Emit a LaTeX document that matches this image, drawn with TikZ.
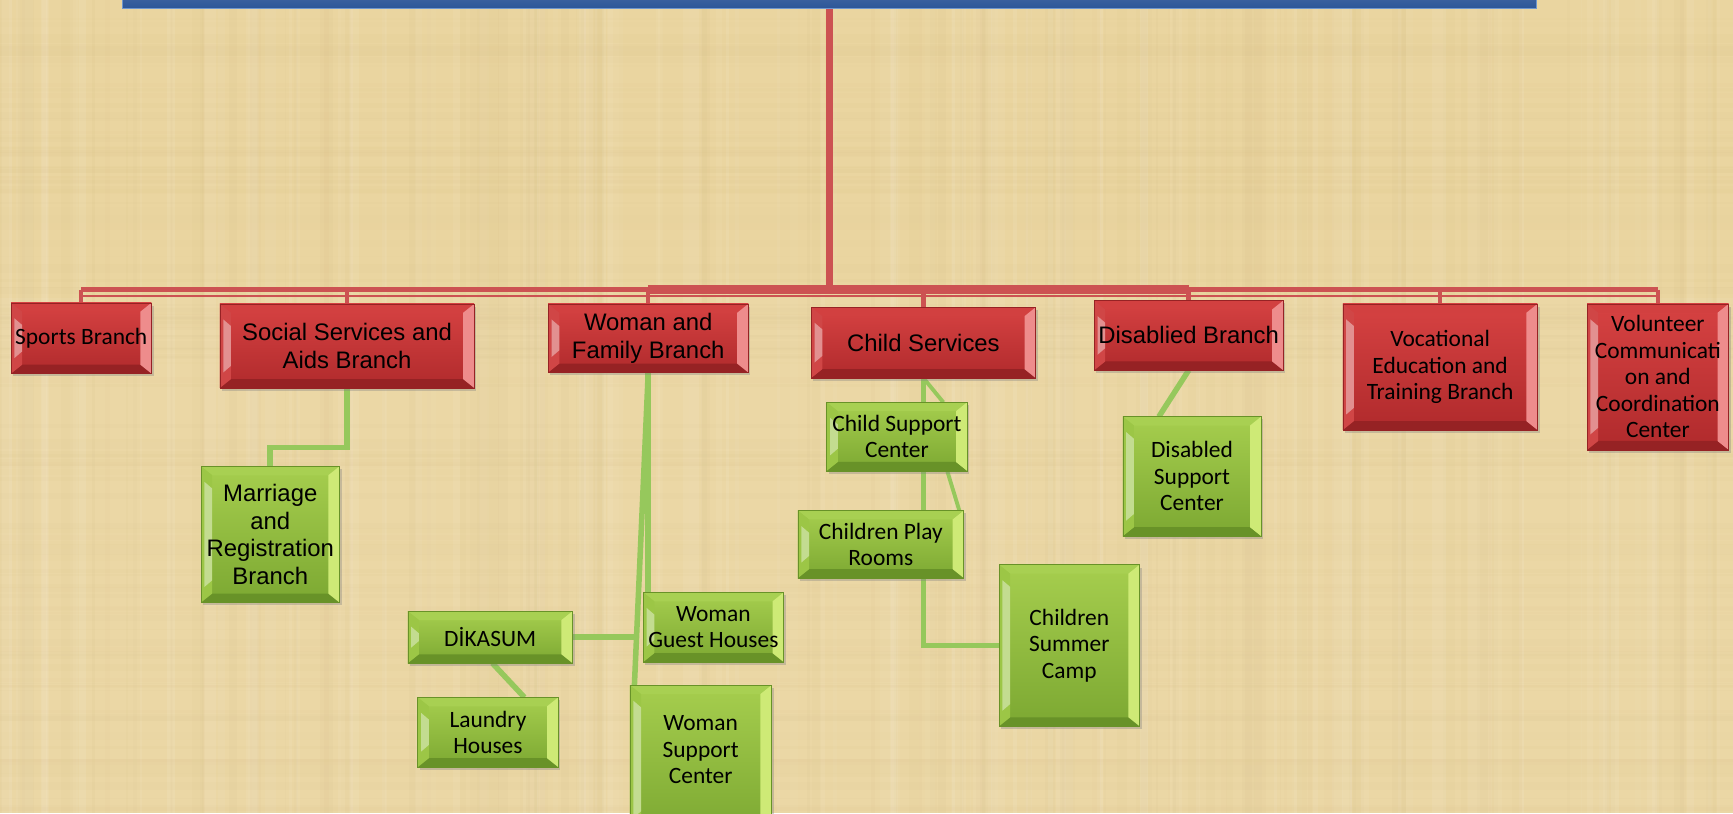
\documentclass[tikz,border=0pt]{standalone}
\usepackage{fontspec}
\setmainfont{Liberation Sans}
\newfontfamily\calibrif{Carlito}
\usetikzlibrary{calc,shadows}
\pgfdeclarelayer{back}
\pgfsetlayers{back,main}
\definecolor{bg}{RGB}{234,213,160}
\definecolor{bgdark}{RGB}{205,180,120}
\definecolor{rtop}{RGB}{214,66,66}
\definecolor{rbot}{RGB}{176,42,44}
\definecolor{rleft}{RGB}{208,70,70}
\definecolor{rright}{RGB}{238,140,140}
\definecolor{rtopb}{RGB}{210,64,64}
\definecolor{rbotb}{RGB}{150,34,36}
\definecolor{redline}{RGB}{204,82,82}
\definecolor{gtop}{RGB}{166,206,78}
\definecolor{gbot}{RGB}{124,168,50}
\definecolor{gleft}{RGB}{156,198,70}
\definecolor{gright}{RGB}{206,234,118}
\definecolor{gtopb}{RGB}{168,208,82}
\definecolor{gbotb}{RGB}{104,146,40}
\definecolor{greenline}{RGB}{150,200,92}
\definecolor{bluebar}{RGB}{44,86,152}
\definecolor{blueedge}{RGB}{110,150,205}
\newcommand\bevelpic[4]{%
  \coordinate (bsw) at (path picture bounding box.south west);
  \coordinate (bne) at (path picture bounding box.north east);
  \coordinate (bse) at (path picture bounding box.south east);
  \coordinate (bnw) at (path picture bounding box.north west);
  \fill[#3] (bnw) -- (bne) -- ([shift={(-10pt,-8pt)}]bne) -- ([shift={(10pt,-8pt)}]bnw) -- cycle;
  \fill[#4] (bsw) -- (bse) -- ([shift={(-10pt,8pt)}]bse) -- ([shift={(10pt,8pt)}]bsw) -- cycle;
  \fill[#1] (bnw) -- ([shift={(10pt,-8pt)}]bnw) -- ([shift={(10pt,8pt)}]bsw) -- (bsw) -- cycle;
  \fill[#2] (bne) -- ([shift={(-10pt,-8pt)}]bne) -- ([shift={(-10pt,8pt)}]bse) -- (bse) -- cycle;
  \fill[white,opacity=0.4] ([shift={(3pt,-14pt)}]bnw) -- ([shift={(10pt,-20pt)}]bnw) -- ([shift={(10pt,20pt)}]bsw) -- ([shift={(3pt,14pt)}]bsw) -- cycle;
}
\tikzset{
  box/.style={anchor=north west, inner sep=0pt, outer sep=0pt, align=center, rectangle,
    drop shadow={opacity=0.35, shadow xshift=2pt, shadow yshift=-2.5pt}},
  redbox/.style={box, top color=rtop, bottom color=rbot, draw=rbotb, line width=0.6pt,
    path picture={\bevelpic{rleft}{rright}{rtopb}{rbotb}}},
  greenbox/.style={box, top color=gtop, bottom color=gbot, draw=gbotb, line width=0.6pt,
    path picture={\bevelpic{gleft}{gright}{gtopb}{gbotb}}},
  arialtext/.style={font=\fontsize{21.6}{25}\selectfont},
  calitext/.style={font=\calibrif\fontsize{21.2}{24}\selectfont},
  redlink/.style={draw=redline, line width=4pt},
  greenlink/.style={draw=greenline, line width=5pt},
}
\begin{document}
\begin{tikzpicture}[x=1pt,y=-1pt]
\useasboundingbox (0,0) rectangle (1568,736);

% top bar
\node[anchor=north west, inner sep=0pt, minimum width=1280pt, minimum height=27pt,
  top color=bluebar!80!white, bottom color=bluebar, draw=blueedge, line width=1pt] (top) at (110,-20) {};

% red branch boxes
\node[redbox, calitext, minimum width=127pt, minimum height=64pt] (sp) at (10,274) {Sports Branch};
\node[redbox, arialtext, minimum width=230pt, minimum height=76pt] (ss) at (199,275) {Social Services and\\Aids Branch};
\node[redbox, arialtext, minimum width=181pt, minimum height=62pt] (wf) at (496,275) {Woman and\\Family Branch};
\node[redbox, arialtext, minimum width=203pt, minimum height=64pt] (cs) at (734,278) {Child Services};
\node[redbox, arialtext, minimum width=171pt, minimum height=63pt] (db) at (990,272) {Disablied Branch};
\node[redbox, calitext, minimum width=176pt, minimum height=114pt] (ve) at (1215,275) {Vocational\\Education and\\Training Branch};
\node[redbox, calitext, minimum width=128pt, minimum height=132pt] (vc) at (1436,275) {Volunteer\\Communicati\\on and\\Coordination\\Center};

% green boxes
\node[greenbox, arialtext, minimum width=125pt, minimum height=123pt] (mr) at (182,422) {Marriage\\and\\Registration\\Branch};
\node[greenbox, calitext, minimum width=127pt, minimum height=62pt] (csc) at (748,364) {Child Support\\Center};
\node[greenbox, calitext, minimum width=150pt, minimum height=61pt] (cpr) at (722,462) {Children Play\\Rooms};
\node[greenbox, calitext, minimum width=127pt, minimum height=146pt] (scp) at (904,511) {Children\\Summer\\Camp};
\node[greenbox, calitext, minimum width=125pt, minimum height=108pt] (dsc) at (1016,377) {Disabled\\Support\\Center};
\node[greenbox, calitext, minimum width=127pt, minimum height=63pt] (wg) at (582,536) {Woman\\Guest Houses};
\node[greenbox, calitext, minimum width=149pt, minimum height=47pt] (dk) at (369,553) {DİKASUM};
\node[greenbox, calitext, minimum width=127pt, minimum height=63pt] (ld) at (378,631) {Laundry\\Houses};
\node[greenbox, calitext, minimum width=128pt, minimum height=134pt] (ws) at (570,620) {Woman\\Support\\Center\rule[-17pt]{0pt}{17pt}};

\begin{pgfonlayer}{back}
\fill[bg] (0,0) rectangle (1568,736);
\pgfmathsetseed{11}
\foreach \i in {1,...,220}{
  \pgfmathsetmacro\xx{rnd*1568}
  \pgfmathsetmacro\ww{1+rnd*10}
  \pgfmathsetmacro\oo{0.03+rnd*0.05}
  \pgfmathsetmacro\cc{rnd}
  \ifdim\cc pt<0.5pt
    \fill[white,opacity=\oo] (\xx,0) rectangle ++(\ww,736);
  \else
    \fill[bgdark,opacity=\oo] (\xx,0) rectangle ++(\ww,736);
  \fi
}
\foreach \i in {1,...,120}{
  \pgfmathsetmacro\yy{rnd*736}
  \pgfmathsetmacro\hh{1+rnd*6}
  \pgfmathsetmacro\oo{0.02+rnd*0.04}
  \fill[bgdark,opacity=\oo] (0,\yy) rectangle ++(1568,\hh);
}
\fill[white,opacity=0.06] (0,270) rectangle (1568,736);

% red connectors
\coordinate (bus) at (0,262);
\coordinate (busb) at (0,268);
\draw[redline, line width=6pt] (top.south) -- (top.south |- bus);
\draw[redline, line width=4.5pt] (sp.north |- bus) -- (vc.north |- bus);
\draw[redline, line width=1.5pt] (sp.north |- busb) -- (vc.north |- busb);
\draw[redline, line width=8pt] (wf.north |- bus) -- (db.north |- bus);
\foreach \n in {sp,ss,wf,cs,db,ve,vc}{
  \draw[redlink] (\n.north |- bus) -- (\n.north);
}

% green connectors
\draw[greenlink] (ss.south) -- ++(0,54) -| (mr.north);
\draw[greenlink] (wf.south) -- (wf.south |- wg.north);
\draw[greenlink] (wf.south) -- ([xshift=4pt]ws.north west);
\coordinate (dkj) at ($(wf.south)!0.843!([xshift=4pt]ws.north west)$);
\draw[greenlink] (dk.east) -- (dk.east -| dkj);
\draw[greenlink] ([xshift=2pt]dk.south) -- ([xshift=33pt]ld.north);
\draw[greenlink] (cs.south) -- (cs.south |- csc.north);
\draw[greenlink, line width=3.5pt] (cs.south) -- ([xshift=42pt]csc.north);
\draw[greenlink] (csc.south -| cs.south) -- (cpr.north -| cs.south);
\draw[greenlink, line width=3.5pt] ([xshift=-18pt]csc.south east) -- ([xshift=-4pt]cpr.north east);
\draw[greenlink] (cpr.south -| cs.south) |- (scp.west);
\draw[greenlink] (db.south) -- ([xshift=-30pt]dsc.north);
\end{pgfonlayer}
\end{tikzpicture}
\end{document}
